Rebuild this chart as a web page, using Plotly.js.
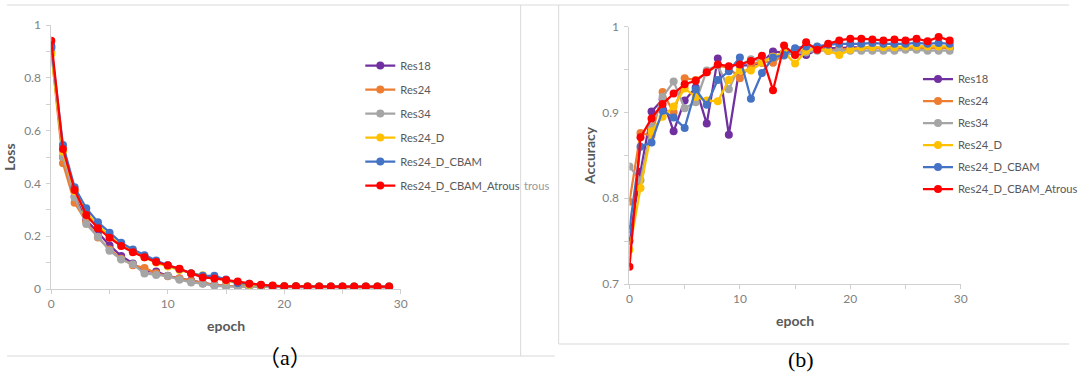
<!DOCTYPE html>
<html>
<head>
<meta charset="utf-8">
<script src="https://cdn.plot.ly/plotly-3.0.1.min.js"></script>
<style>html,body{margin:0;padding:0;background:#fff;overflow:hidden;width:1083px;height:376px;}#chart{width:1083px;height:376px;overflow:hidden;}</style>
</head>
<body>
<div id="chart"></div>
<script>
var epochs = [0,1,2,3,4,5,6,7,8,9,10,11,12,13,14,15,16,17,18,19,20,21,22,23,24,25,26,27,28,29];
var seriesNames = ["Res18","Res24","Res34","Res24_D","Res24_D_CBAM","Res24_D_CBAM_Atrous"];
var seriesColors = ["#7030A0","#ED7D31","#A5A5A5","#FFC000","#4472C4","#FF0000"];

var lossRes18 = [0.92,0.50,0.35,0.26,0.215,0.165,0.125,0.097,0.068,0.066,0.05,0.04,0.032,0.022,0.016,0.012,0.01,0.009,0.008,0.008,0.008,0.008,0.007,0.007,0.007,0.007,0.007,0.007,0.007,0.007];
var lossRes24 = [0.90,0.476,0.327,0.255,0.195,0.15,0.115,0.09,0.08,0.06,0.048,0.04,0.03,0.022,0.015,0.012,0.01,0.009,0.008,0.008,0.008,0.008,0.008,0.008,0.007,0.007,0.007,0.007,0.007,0.007];
var lossRes34 = [0.91,0.50,0.347,0.246,0.198,0.145,0.112,0.094,0.059,0.053,0.049,0.035,0.025,0.02,0.012,0.01,0.009,0.008,0.008,0.008,0.007,0.007,0.007,0.007,0.007,0.007,0.007,0.007,0.007,0.007];
var lossRes24D = [0.89,0.52,0.37,0.29,0.24,0.20,0.165,0.145,0.12,0.10,0.085,0.072,0.06,0.052,0.042,0.032,0.022,0.016,0.013,0.012,0.011,0.01,0.01,0.009,0.009,0.009,0.009,0.009,0.009,0.009];
var lossCBAM = [0.915,0.545,0.385,0.306,0.253,0.213,0.175,0.15,0.128,0.108,0.09,0.076,0.06,0.05,0.05,0.036,0.022,0.02,0.015,0.011,0.01,0.01,0.009,0.009,0.009,0.009,0.009,0.009,0.009,0.009];
var lossAtrous = [0.94,0.53,0.375,0.28,0.23,0.194,0.163,0.139,0.12,0.102,0.09,0.077,0.059,0.044,0.04,0.034,0.028,0.02,0.016,0.013,0.01,0.01,0.009,0.009,0.009,0.009,0.009,0.009,0.009,0.009];

var accRes18 = [0.75,0.831,0.901,0.915,0.878,0.914,0.929,0.887,0.963,0.874,0.955,0.955,0.958,0.971,0.97,0.968,0.967,0.973,0.975,0.975,0.976,0.976,0.976,0.975,0.976,0.976,0.976,0.977,0.976,0.976];
var accRes24 = [0.796,0.876,0.873,0.924,0.90,0.94,0.938,0.947,0.955,0.952,0.94,0.955,0.96,0.958,0.968,0.97,0.972,0.975,0.972,0.974,0.974,0.975,0.975,0.975,0.974,0.975,0.975,0.975,0.975,0.975];
var accRes34 = [0.837,0.821,0.883,0.918,0.936,0.905,0.912,0.949,0.955,0.927,0.955,0.962,0.96,0.965,0.966,0.97,0.97,0.972,0.972,0.972,0.972,0.972,0.972,0.972,0.972,0.973,0.973,0.972,0.972,0.972];
var accRes24D = [0.74,0.812,0.878,0.895,0.907,0.928,0.918,0.914,0.913,0.938,0.949,0.949,0.958,0.965,0.97,0.957,0.972,0.975,0.972,0.967,0.973,0.976,0.976,0.976,0.976,0.977,0.977,0.977,0.977,0.977];
var accCBAM = [0.764,0.86,0.865,0.902,0.894,0.882,0.927,0.909,0.938,0.948,0.964,0.916,0.946,0.964,0.967,0.975,0.977,0.977,0.979,0.98,0.98,0.98,0.981,0.98,0.98,0.98,0.981,0.98,0.981,0.98];
var accAtrous = [0.72,0.871,0.893,0.91,0.922,0.933,0.937,0.947,0.956,0.954,0.956,0.96,0.966,0.926,0.978,0.967,0.982,0.973,0.98,0.984,0.986,0.986,0.985,0.984,0.985,0.984,0.986,0.983,0.988,0.984];

var lossSeries = [lossRes18, lossRes24, lossRes34, lossRes24D, lossCBAM, lossAtrous];
var accSeries = [accRes18, accRes24, accRes34, accRes24D, accCBAM, accAtrous];

var W = 1083, H = 376;
function px(x){return x/W;}
function py(y){return 1 - y/H;}

var traces = [];
seriesNames.forEach(function(n,i){
  traces.push({x:epochs, y:lossSeries[i], name:n, type:'scatter', mode:'lines+markers',
    xaxis:'x', yaxis:'y', legend:'legend', legendgroup:'a'+i,
    line:{color:seriesColors[i], width:2.25}, marker:{color:seriesColors[i], size:8}});
});
seriesNames.forEach(function(n,i){
  traces.push({x:epochs, y:accSeries[i], name:n, type:'scatter', mode:'lines+markers',
    xaxis:'x2', yaxis:'y2', legend:'legend2', legendgroup:'b'+i,
    line:{color:seriesColors[i], width:2.25}, marker:{color:seriesColors[i], size:8}});
});

var tickFont = {family:'Lato, "Noto Sans", sans-serif', size:12, color:'#7f7f7f'};
var titleFont = {family:'Lato, "Noto Sans", sans-serif', size:14, color:'#595959', weight:'bold'};
var legFont = {family:'Lato, "Noto Sans", sans-serif', size:11.2, color:'#595959'};
var axCommon = {showgrid:false, zeroline:false, showline:true, linecolor:'#d0d0d0', linewidth:1,
  ticks:'outside', tickcolor:'#d0d0d0', ticklen:4, tickfont:tickFont, fixedrange:true};

var layout = {
  width:W, height:H, margin:{l:0,r:0,t:0,b:0}, paper_bgcolor:'#fff', plot_bgcolor:'rgba(0,0,0,0)',
  xaxis: Object.assign({}, axCommon, {domain:[px(52),px(406)], range:[0,30], dtick:10, tick0:0,
    minor:{dtick:5, ticks:'outside', ticklen:4, tickcolor:'#d0d0d0'}, anchor:'y',
    title:{text:'epoch', font:titleFont, standoff:10}}),
  yaxis: Object.assign({}, axCommon, {domain:[py(289),py(25)], range:[0,1], dtick:0.2, tick0:0,
    minor:{dtick:0.1, ticks:'outside', ticklen:4, tickcolor:'#d0d0d0'}, anchor:'x', ticklabelstandoff:3,
    title:{text:'Loss', font:titleFont, standoff:5}}),
  xaxis2: Object.assign({}, axCommon, {domain:[px(637.7),px(973.3)], range:[0,30], dtick:10, tick0:0,
    minor:{dtick:5, ticks:'outside', ticklen:4, tickcolor:'#d0d0d0'}, anchor:'y2',
    title:{text:'epoch', font:titleFont, standoff:10}}),
  yaxis2: Object.assign({}, axCommon, {domain:[py(284),py(26.7)], range:[0.7,1], dtick:0.1, tick0:0.7,
    minor:{dtick:0.05, ticks:'outside', ticklen:4, tickcolor:'#d0d0d0'}, anchor:'x2', ticklabelstandoff:3,
    title:{text:'Accuracy', font:titleFont, standoff:3}}),
  legend:{x:px(365), y:py(51), xanchor:'left', yanchor:'top', font:legFont, bgcolor:'rgba(0,0,0,0)',
    tracegroupgap:5, itemwidth:30},
  legend2:{x:px(930), y:py(64.5), xanchor:'left', yanchor:'top', font:legFont, bgcolor:'rgba(0,0,0,0)',
    tracegroupgap:3, itemwidth:30},
  showlegend:true,
  shapes:[
    {type:'line', xref:'paper', yref:'paper', x0:px(7), x1:1, y0:py(5), y1:py(5), line:{color:'#d9d9d9', width:1}},
    {type:'line', xref:'paper', yref:'paper', x0:px(7), x1:px(562), y0:py(356), y1:py(356), line:{color:'#d9d9d9', width:1}},
    {type:'line', xref:'paper', yref:'paper', x0:px(527.5), x1:px(527.5), y0:py(5), y1:py(356), line:{color:'#d9d9d9', width:1}},
    {type:'line', xref:'paper', yref:'paper', x0:px(566), x1:px(566), y0:py(5), y1:py(344), line:{color:'#d9d9d9', width:1}},
    {type:'line', xref:'paper', yref:'paper', x0:px(566), x1:1, y0:py(344), y1:py(344), line:{color:'#d9d9d9', width:1}}
  ],
  annotations:[
    {text:'（a）', xref:'paper', yref:'paper', x:px(289), y:py(357), xanchor:'center', yanchor:'middle', showarrow:false,
      font:{family:'"Liberation Serif", "Noto Sans CJK SC", serif', size:22, color:'#000'}},
    {text:'(b)', xref:'paper', yref:'paper', x:px(811.5), y:py(359), xanchor:'center', yanchor:'middle', showarrow:false,
      font:{family:'"Liberation Serif", serif', size:22, color:'#000'}},
    {text:'trous', xref:'paper', yref:'paper', x:px(529), y:py(185), xanchor:'left', yanchor:'middle', showarrow:false,
      font:{family:'Lato, "Noto Sans", sans-serif', size:11.2, color:'#9a9a9a'}}
  ]
};

Plotly.newPlot('chart', traces, layout, {displayModeBar:false, staticPlot:true});
</script>
</body>
</html>
